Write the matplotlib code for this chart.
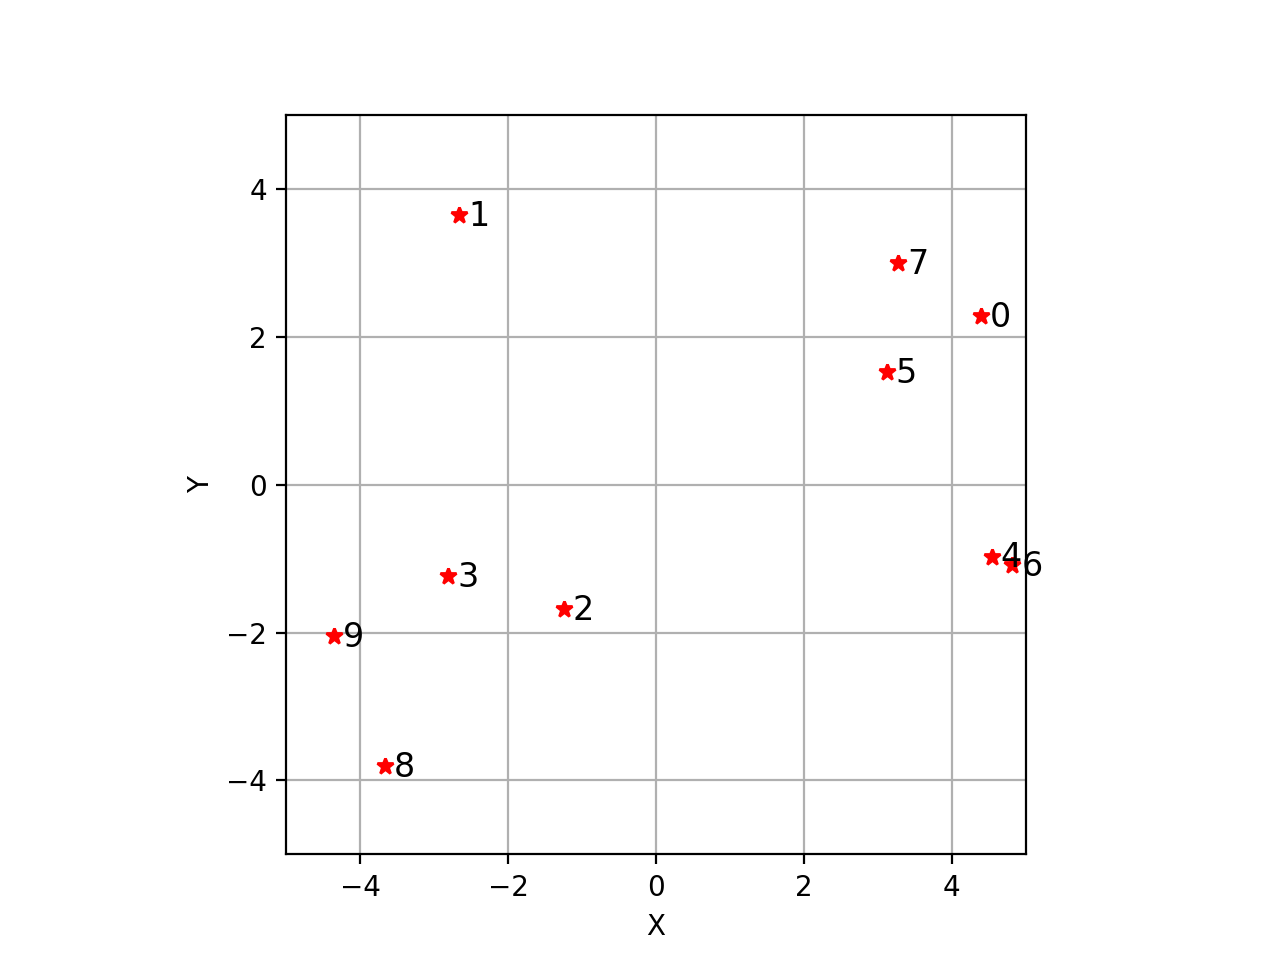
import matplotlib
matplotlib.use('Agg')
import matplotlib.pyplot as plt

# point coordinates
xs = [4.40, -2.66, -1.25, -2.81, 4.54, 3.12, 4.82, 3.28, -3.67, -4.36]
ys = [2.28, 3.65, -1.68, -1.24, -0.97, 1.53, -1.08, 3.00, -3.80, -2.05]
labels = [str(i) for i in range(len(xs))]

fig = plt.figure(figsize=(6.4, 4.8), dpi=200)
ax = fig.add_subplot(111)
ax.plot(xs, ys, 'r*', markersize=6)
for x, y, lab in zip(xs, ys, labels):
    ax.text(x + 0.12, y - 0.02, lab, fontsize=12, va='center')

ax.set_xlim(-5, 5)
ax.set_ylim(-5, 5)
ax.set_aspect('equal')
ax.grid(True)
ax.set_xlabel('X')
ax.set_ylabel('Y')

fig.savefig('out.png')
